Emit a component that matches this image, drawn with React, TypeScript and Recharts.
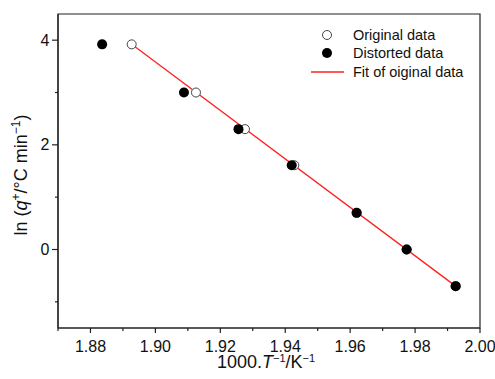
import {
  ComposedChart,
  Label,
  ReferenceArea,
  ReferenceLine,
  Scatter,
  XAxis,
  YAxis,
} from "recharts";

// 1000/T values (K^-1) and ln(q) values
const originalX = [1.8927, 1.9125, 1.9276, 1.9428, 1.962, 1.9774, 1.9925];
const distortedX = [1.8836, 1.9088, 1.9256, 1.942, 1.962, 1.9774, 1.9925];
const lnQ = [3.92, 3.0, 2.3, 1.61, 0.7, 0.0, -0.7];

const fitX = [1.8927, 1.9925];
const fitY = [3.92, -0.7];

const xTicks = [1.87, 1.88, 1.89, 1.9, 1.91, 1.92, 1.93, 1.94, 1.95, 1.96, 1.97, 1.98, 1.99, 2.0];
const yTicks = [-1, 0, 1, 2, 3, 4];

const legendItems = [
  { name: "Original data", kind: "open" },
  { name: "Distorted data", kind: "filled" },
  { name: "Fit of oiginal data", kind: "line" },
];

const originalData = originalX.map((x, i) => ({ x, y: lnQ[i] }));
const distortedData = distortedX.map((x, i) => ({ x, y: lnQ[i] }));

const FONT = "'Liberation Sans', Arial, Helvetica, sans-serif";
const AXIS = "#222";

const XTick = ({ x, y, payload }: any) => {
  const major = Math.round(payload.value * 100) % 2 === 0;
  return (
    <g>
      <line x1={x} y1={y} x2={x} y2={y + (major ? 5 : 3)} stroke={AXIS} strokeWidth={1.2} />
      {major && (
        <text x={x} y={y + 23.5} textAnchor="middle" fontSize={16} fontFamily={FONT} fill="#111">
          {payload.value.toFixed(2)}
        </text>
      )}
    </g>
  );
};

const YTick = ({ x, y, payload }: any) => {
  const major = payload.value % 2 === 0;
  return (
    <g>
      <line x1={x - (major ? 6 : 3)} y1={y} x2={x} y2={y} stroke={AXIS} strokeWidth={1.2} />
      {major && (
        <text x={x - 8.5} y={y + 5.6} textAnchor="end" fontSize={16} fontFamily={FONT} fill="#111">
          {payload.value}
        </text>
      )}
    </g>
  );
};

const YTitle = () => (
  <text
    transform="translate(27,175) rotate(-90)"
    textAnchor="middle"
    fontSize={18}
    fontFamily={FONT}
    fill="#111"
  >
    ln (<tspan fontStyle="italic">q</tspan>
    <tspan fontSize={12} dy={-7}>+</tspan>
    <tspan dy={7}>/°C min</tspan>
    <tspan fontSize={12} dy={-7}>−1</tspan>
    <tspan dy={7}>)</tspan>
  </text>
);

const XTitle = () => (
  <text x={266} y={368} textAnchor="middle" fontSize={18} fontFamily={FONT} fill="#111">
    1000.<tspan fontStyle="italic">T</tspan>
    <tspan fontSize={11} dy={-6}>−1</tspan>
    <tspan dy={6}>/K</tspan>
    <tspan fontSize={11} dy={-6}>−1</tspan>
  </text>
);

const LegendBox = () => (
  <div
    style={{
      position: "absolute",
      left: 293,
      top: 26,
      fontFamily: FONT,
      fontSize: 14.5,
      color: "#111",
      lineHeight: "18.3px",
    }}
  >
    {legendItems.map((item) => (
      <div key={item.name} style={{ display: "flex", alignItems: "center", height: 18.3 }}>
        <svg width={60} height={18} style={{ flexShrink: 0 }}>
          {item.kind === "open" && <circle cx={34} cy={9} r={4.5} fill="#fff" stroke="#444" strokeWidth={1} />}
          {item.kind === "filled" && <circle cx={34} cy={9} r={5} fill="#000" />}
          {item.kind === "line" && <line x1={18} y1={9} x2={51} y2={9} stroke="#ff2020" strokeWidth={1.3} />}
        </svg>
        <span>{item.name}</span>
      </div>
    ))}
  </div>
);

export default function App() {
  return (
    <div style={{ position: "absolute", left: 0, top: 0, width: 495, height: 379, background: "#fff" }}>
      <ComposedChart width={495} height={379} margin={{ top: 14, right: 15, bottom: 0, left: 0 }}>
        <XAxis
          type="number"
          dataKey="x"
          domain={[1.87, 2.0]}
          ticks={xTicks}
          interval={0}
          height={51}
          tickSize={0}
          tickMargin={0}
          tickLine={false}
          axisLine={{ stroke: AXIS, strokeWidth: 1.2 }}
          tick={<XTick />}
          allowDataOverflow
        >
          <Label content={<XTitle />} />
        </XAxis>
        <YAxis
          type="number"
          dataKey="y"
          domain={[-1.5, 4.5]}
          ticks={yTicks}
          interval={0}
          width={58}
          tickSize={0}
          tickMargin={0}
          tickLine={false}
          axisLine={{ stroke: AXIS, strokeWidth: 1.2 }}
          tick={<YTick />}
          allowDataOverflow
        >
          <Label content={<YTitle />} />
        </YAxis>
        <ReferenceArea
          x1={1.87}
          x2={2.0}
          y1={-1.5}
          y2={4.5}
          fill="none"
          stroke={AXIS}
          strokeWidth={1.2}
          fillOpacity={0}
        />
        <Scatter
          data={originalData}
          isAnimationActive={false}
          shape={(p: any) => <circle cx={p.cx} cy={p.cy} r={4.5} fill="#fff" stroke="#444" strokeWidth={1} />}
        />
        <Scatter
          data={distortedData}
          isAnimationActive={false}
          shape={(p: any) => <circle cx={p.cx} cy={p.cy} r={5} fill="#000" />}
        />
        <ReferenceLine
          segment={[
            { x: fitX[0], y: fitY[0] },
            { x: fitX[1], y: fitY[1] },
          ]}
          stroke="#ff2020"
          strokeWidth={1.3}
        />
      </ComposedChart>
      <LegendBox />
    </div>
  );
}
